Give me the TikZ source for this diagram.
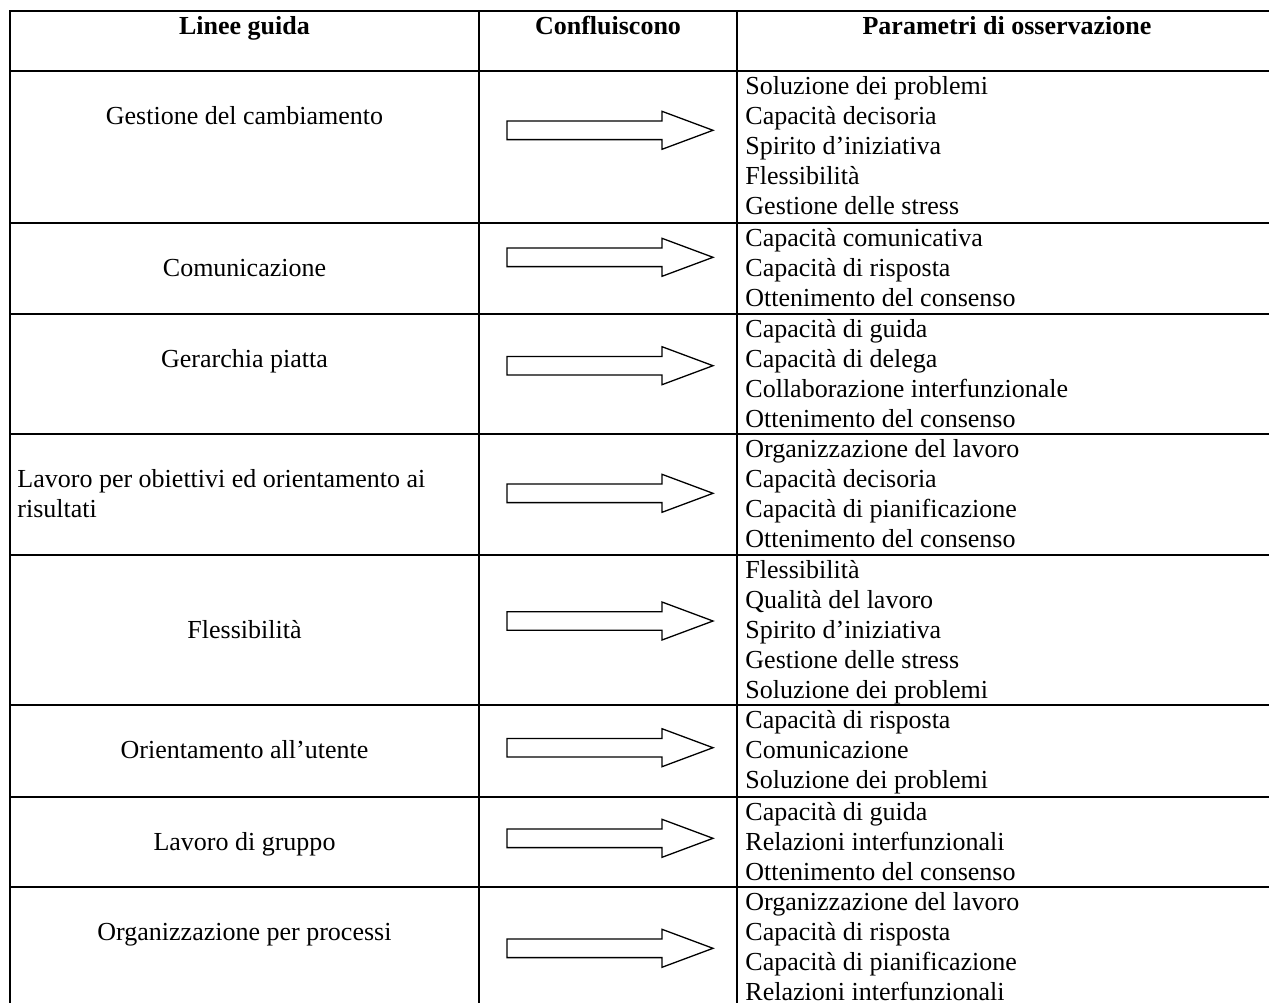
\documentclass[tikz,border=0pt]{standalone}
\usepackage{fontspec}
\setmainfont{Liberation Serif}
\begin{document}
\begin{tikzpicture}[x=0.4615pt,y=-0.4615pt,
  every node/.style={inner sep=0pt, font=\fontsize{12pt}{13.85pt}\selectfont},
  grid/.style={line width=1pt, line cap=rect},
  head/.style={anchor=base, font=\fontsize{12pt}{13.85pt}\selectfont\bfseries},
  mid/.style={anchor=base},
  item/.style={anchor=base west},
  blockarrow/.style={draw, line width=0.6pt, fill=white}]
\clip (0,0) rectangle (1269,1002);
\fill[white] (0,0) rectangle (1269,1002);
% table grid
\foreach \y in {11,71,223,314,434,555,705,797,887}
  \draw[grid] (10,\y) -- (1277,\y);
\foreach \x in {10,479,737,1277}
  \draw[grid] (\x,11) -- (\x,1015);
% header
\node[head] (h1) at (244.5,34) {Linee guida};
\node[head] (h2) at (608,34) {Confluiscono};
\node[head] (h3) at (1007,34) {Parametri di osservazione};
% column 1
\node[mid] (l1) at (244.5,124) {Gestione del cambiamento};
\node[mid] (l2) at (244.5,276) {Comunicazione};
\node[mid] (l3) at (244.5,367) {Gerarchia piatta};
\node[item] (l4a) at (17,487) {Lavoro per obiettivi ed orientamento ai};
\node[item] (l4b) at (17,517) {risultati};
\node[mid] (l5) at (244.5,638) {Flessibilità};
\node[mid] (l6) at (244.5,758) {Orientamento all’utente};
\node[mid] (l7) at (244.5,850) {Lavoro di gruppo};
\node[mid] (l8) at (244.5,940) {Organizzazione per processi};
% arrows
\foreach \yc in {130.3,257.3,365.7,493.3,621,747.7,838.3,948.3}
  \draw[blockarrow] (507,\yc-9.3) -- (662,\yc-9.3) -- (662,\yc-19) -- (713,\yc)
    -- (662,\yc+19) -- (662,\yc+9.3) -- (507,\yc+9.3) -- cycle;
% column 3
\foreach \t [count=\i from 0] in {Soluzione dei problemi,Capacità decisoria,Spirito d’iniziativa,Flessibilità,Gestione delle stress}
  \node[item] (p1-\i) at (745,94+30*\i) {\t};
\foreach \t [count=\i from 0] in {Capacità comunicativa,Capacità di risposta,Ottenimento del consenso}
  \node[item] (p2-\i) at (745,246+30*\i) {\t};
\foreach \t [count=\i from 0] in {Capacità di guida,Capacità di delega,Collaborazione interfunzionale,Ottenimento del consenso}
  \node[item] (p3-\i) at (745,337+30*\i) {\t};
\foreach \t [count=\i from 0] in {Organizzazione del lavoro,Capacità decisoria,Capacità di pianificazione,Ottenimento del consenso}
  \node[item] (p4-\i) at (745,457+30*\i) {\t};
\foreach \t [count=\i from 0] in {Flessibilità,Qualità del lavoro,Spirito d’iniziativa,Gestione delle stress,Soluzione dei problemi}
  \node[item] (p5-\i) at (745,578+30*\i) {\t};
\foreach \t [count=\i from 0] in {Capacità di risposta,Comunicazione,Soluzione dei problemi}
  \node[item] (p6-\i) at (745,728+30*\i) {\t};
\foreach \t [count=\i from 0] in {Capacità di guida,Relazioni interfunzionali,Ottenimento del consenso}
  \node[item] (p7-\i) at (745,820+30*\i) {\t};
\foreach \t [count=\i from 0] in {Organizzazione del lavoro,Capacità di risposta,Capacità di pianificazione,Relazioni interfunzionali}
  \node[item] (p8-\i) at (745,910+30*\i) {\t};
\end{tikzpicture}
\end{document}
